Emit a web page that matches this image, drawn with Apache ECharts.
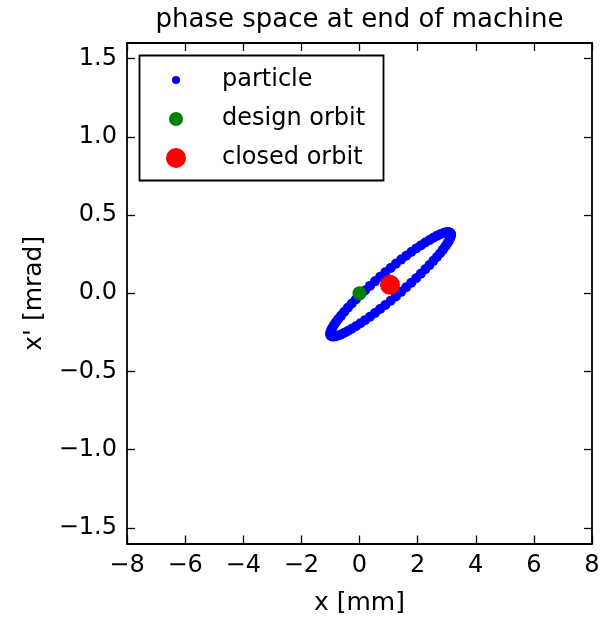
<!DOCTYPE html>
<html>
<head>
<meta charset="utf-8">
<script src="https://cdn.jsdelivr.net/npm/echarts@6/dist/echarts.min.js"></script>
<style>html,body{margin:0;padding:0;background:#fff}#c{width:600px;height:617px}</style>
</head>
<body>
<div id="c"></div>
<script>
// ---- data ----
var titleText = 'phase space at end of machine';
var xLabel = 'x [mm]';
var yLabel = "x' [mrad]";
var xTicks = [-8, -6, -4, -2, 0, 2, 4, 6, 8];
var yTicks = [-1.5, -1.0, -0.5, 0.0, 0.5, 1.0, 1.5];
var seriesNames = ['particle', 'design orbit', 'closed orbit'];

// particle positions around the ellipse (x in mm)
var particleX = [3.150, 3.142, 3.118, 3.079, 3.025, 2.955, 2.871, 2.774, 2.663, 2.541, 2.407, 2.263,
  2.110, 1.949, 1.781, 1.608, 1.431, 1.251, 1.070, 0.889, 0.709, 0.532, 0.359, 0.191,
  0.030, -0.123, -0.267, -0.401, -0.523, -0.634, -0.731, -0.815, -0.885, -0.939, -0.978, -1.002,
  -1.010, -1.002, -0.978, -0.939, -0.885, -0.815, -0.731, -0.634, -0.523, -0.401, -0.267, -0.123,
  0.030, 0.191, 0.359, 0.532, 0.709, 0.889, 1.070, 1.251, 1.431, 1.608, 1.781, 1.949,
  2.110, 2.263, 2.407, 2.541, 2.663, 2.774, 2.871, 2.955, 3.025, 3.079, 3.118, 3.142];
// particle angles (x' in mrad)
var particleXp = [0.374, 0.382, 0.387, 0.390, 0.391, 0.389, 0.384, 0.377, 0.367, 0.355, 0.341, 0.325,
  0.306, 0.286, 0.264, 0.240, 0.215, 0.189, 0.162, 0.134, 0.105, 0.076, 0.047, 0.018,
  -0.011, -0.039, -0.066, -0.093, -0.118, -0.143, -0.165, -0.186, -0.205, -0.222, -0.237, -0.250,
  -0.260, -0.268, -0.273, -0.276, -0.277, -0.275, -0.270, -0.263, -0.253, -0.241, -0.227, -0.211,
  -0.192, -0.172, -0.150, -0.126, -0.101, -0.075, -0.048, -0.020, 0.009, 0.038, 0.067, 0.096,
  0.125, 0.153, 0.180, 0.207, 0.232, 0.256, 0.279, 0.300, 0.319, 0.336, 0.351, 0.364];

var designOrbit = [0.0, 0.0];
var closedOrbit = [1.05, 0.054];

// ---- chart ----
var FONT = 'DejaVu Sans';
var particleData = particleX.map(function (x, i) { return [x, particleXp[i]]; });

var chart = echarts.init(document.getElementById('c'), null, {renderer: 'canvas'});

function mkLegend(name, size, cy) {
  var lh = 28;
  return {
    orient: 'vertical',
    selectedMode: false,
    icon: 'circle',
    padding: 0,
    z: 10,
    data: [name],
    itemWidth: size,
    itemHeight: size,
    left: 176 - size / 2,
    top: cy - lh / 2,
    textStyle: {fontFamily: FONT, fontSize: 24, color: '#000', lineHeight: lh,
      padding: [0, 0, 0, 222 - (176 + size / 2 + 5)]}
  };
}

var axisCommon = {
  type: 'value',
  axisLine: {show: true, onZero: false, lineStyle: {color: '#000', width: 1.8}},
  splitLine: {show: false}
};
var tickStyle = {color: '#000', width: 1.3};

var option = {
  animation: false,
  backgroundColor: '#fff',
  title: {
    text: titleText,
    left: 359.5,
    textAlign: 'center',
    top: 7,
    padding: 0,
    textStyle: {fontFamily: FONT, fontSize: 26, fontWeight: 'normal', color: '#000'}
  },
  grid: {left: 127, right: 8, top: 43, bottom: 73.5, containLabel: false, outerBoundsMode: 'none'},
  legend: [
    mkLegend(seriesNames[0], 8, 80),
    mkLegend(seriesNames[1], 14, 119),
    mkLegend(seriesNames[2], 20, 158)
  ],
  graphic: [{
    type: 'rect',
    shape: {x: 139.5, y: 55.5, width: 244, height: 125},
    style: {fill: '#fff', stroke: '#000', lineWidth: 1.8},
    z: 5
  }],
  xAxis: [
    Object.assign({}, axisCommon, {
      position: 'bottom', min: -8, max: 8, interval: 2,
      name: xLabel, nameLocation: 'middle', nameGap: 47,
      nameTextStyle: {fontFamily: FONT, fontSize: 25, color: '#000'},
      axisTick: {show: true, inside: true, length: 8, lineStyle: tickStyle},
      axisLabel: {show: true, margin: 10, fontFamily: FONT, fontSize: 24, color: '#000',
        formatter: function (v) { return String(v).replace('-', '\u2212'); }}
    }),
    Object.assign({}, axisCommon, {
      position: 'top', min: -8, max: 8, interval: 2,
      axisTick: {show: true, inside: true, length: 8, lineStyle: tickStyle},
      axisLabel: {show: false}
    })
  ],
  yAxis: [
    Object.assign({}, axisCommon, {
      position: 'left', min: -1.6, max: 1.6,
      name: yLabel, nameLocation: 'middle', nameGap: 80,
      nameTextStyle: {fontFamily: FONT, fontSize: 25, color: '#000'},
      axisTick: {show: true, inside: true, length: 8, customValues: yTicks, lineStyle: tickStyle},
      axisLabel: {show: true, margin: 10, fontFamily: FONT, fontSize: 24, color: '#000',
        customValues: yTicks,
        formatter: function (v) { return v.toFixed(1).replace('-', '\u2212'); }}
    }),
    Object.assign({}, axisCommon, {
      position: 'right', min: -1.6, max: 1.6,
      axisTick: {show: true, inside: true, length: 8, customValues: yTicks, lineStyle: tickStyle},
      axisLabel: {show: false}
    })
  ],
  series: [
    {
      name: seriesNames[0], type: 'scatter', xAxisIndex: 0, yAxisIndex: 0,
      symbol: 'circle', symbolSize: 10, data: particleData,
      itemStyle: {color: '#0000ff', opacity: 1}, emphasis: {disabled: true}, z: 2
    },
    {
      name: seriesNames[1], type: 'scatter', xAxisIndex: 0, yAxisIndex: 0,
      symbol: 'circle', symbolSize: 14, data: [designOrbit],
      itemStyle: {color: '#008000', opacity: 1}, emphasis: {disabled: true}, z: 3
    },
    {
      name: seriesNames[2], type: 'scatter', xAxisIndex: 0, yAxisIndex: 0,
      symbol: 'circle', symbolSize: 20, data: [closedOrbit],
      itemStyle: {color: '#ff0000', opacity: 1}, emphasis: {disabled: true}, z: 4
    }
  ]
};
chart.setOption(option);
</script>
</body>
</html>
